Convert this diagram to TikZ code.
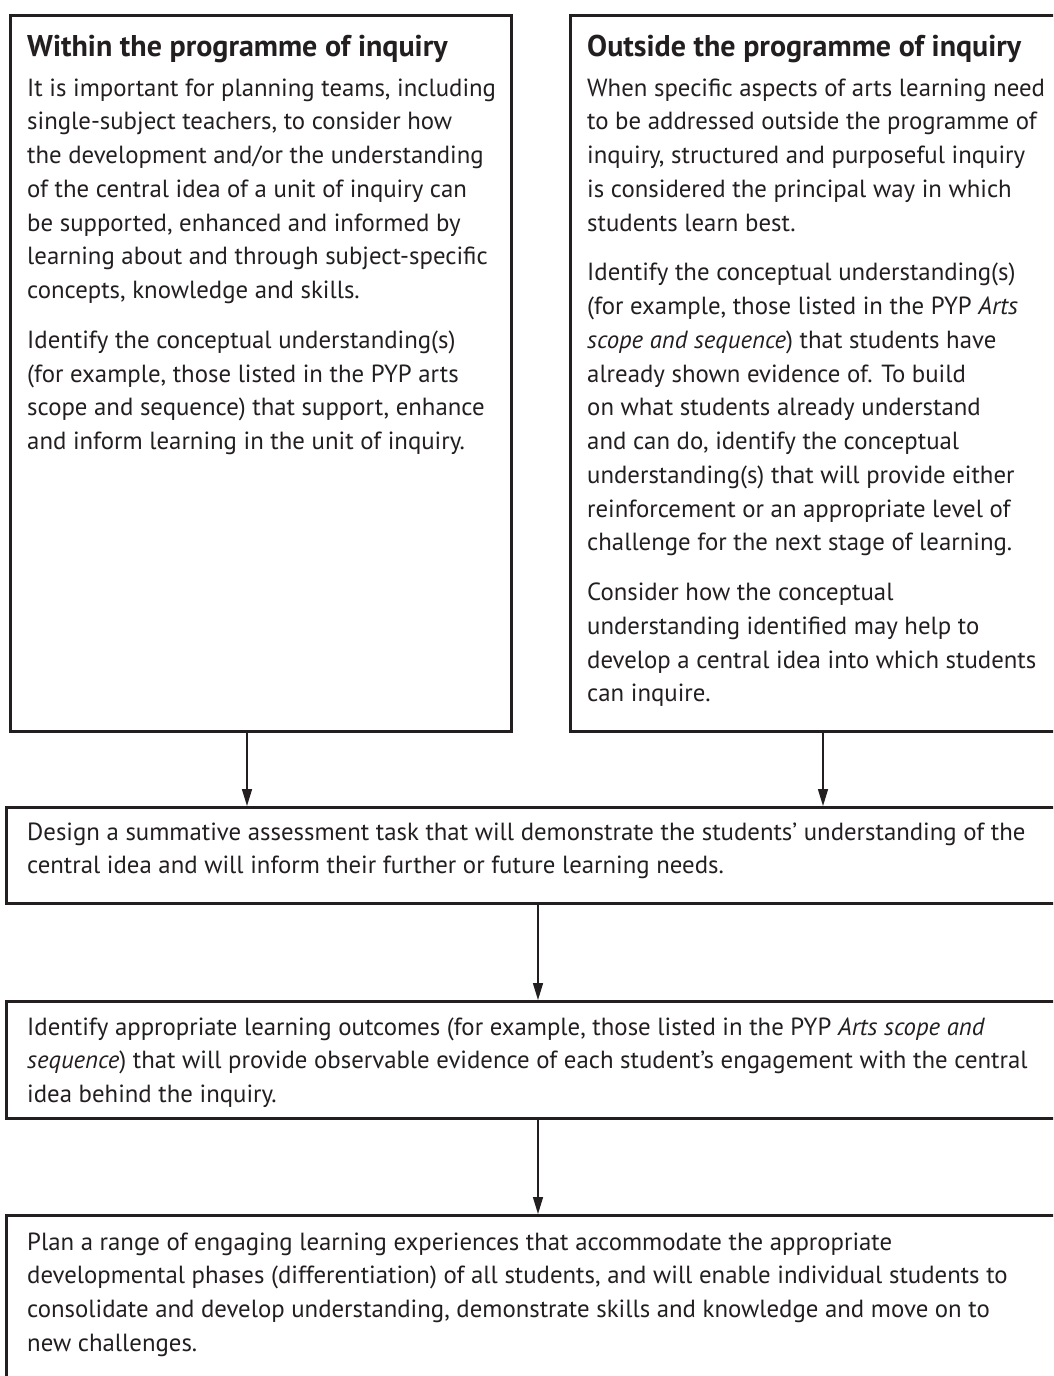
\documentclass[tikz,border=0pt]{standalone}
\usepackage{fontspec}
\setmainfont{PT Sans}
\usetikzlibrary{arrows.meta}
\definecolor{ink}{HTML}{231F20}
\begin{document}
\begin{tikzpicture}[x=1pt,y=-1pt,
  boxstyle/.style={draw=ink,line width=3pt,rectangle,inner sep=0pt,anchor=north west},
  txt/.style={anchor=north west,inner sep=0pt,align=left,text=ink,font=\fontsize{24.8}{33.75}\selectfont},
  head/.style={anchor=north west,inner sep=0pt,align=left,text=ink,font=\fontsize{30}{33.75}\selectfont\bfseries},
  arr/.style={draw=ink,line width=1.5pt,-{Triangle[length=17pt,width=10pt]}}]
\useasboundingbox (0,0) rectangle (1053,1376);
\clip (0,0) rectangle (1053,1376);
\fill[white] (0,0) rectangle (1053,1376);
% boxes
\node[boxstyle,minimum width=501pt,minimum height=716pt] (L) at (9,14) {};
\node[boxstyle,minimum width=500pt,minimum height=716pt] (R) at (569,14) {};
\node[boxstyle,minimum width=1060pt,minimum height=96pt] (B3) at (5,806) {};
\node[boxstyle,minimum width=1060pt,minimum height=117pt] (B4) at (5,1000) {};
\node[boxstyle,minimum width=1060pt,minimum height=200pt] (B5) at (5,1214) {};
% texts
\node[head] (Lh) at (27,32.4) {\strut Within the programme of inquiry};
\node[txt] (Lt) at (27,72.4) {\strut It is important for planning teams, including\\
single-subject teachers, to consider how\\
the development and/or the understanding\\
of the central idea of a unit of inquiry can\\
be supported, enhanced and informed by\\
learning about and through subject-specific\\
concepts, knowledge and skills.\\[16pt]
Identify the conceptual understanding(s)\\
(for example, those listed in the PYP arts\\
scope and sequence) that support, enhance\\
and inform learning in the unit of inquiry.};
\node[head] (Rh) at (587,32.4) {\strut Outside the programme of inquiry};
\node[txt] (Rt) at (587,72.4) {\strut When specific aspects of arts learning need\\
to be addressed outside the programme of\\
inquiry, structured and purposeful inquiry\\
is considered the principal way in which\\
students learn best.\\[16pt]
Identify the conceptual understanding(s)\\
(for example, those listed in the PYP \textit{Arts}\\
\textit{scope and sequence}) that students have\\
already shown evidence of. To build\\
on what students already understand\\
and can do, identify the conceptual\\
understanding(s) that will provide either\\
reinforcement or an appropriate level of\\
challenge for the next stage of learning.\\[16pt]
Consider how the conceptual\\
understanding identified may help to\\
develop a central idea into which students\\
can inquire.};
\node[txt] (T3) at (27,816.4) {\strut Design a summative assessment task that will demonstrate the students’ understanding of the\\
central idea and will inform their further or future learning needs.};
\node[txt] (T4) at (27,1011.4) {\strut Identify appropriate learning outcomes (for example, those listed in the PYP \textit{Arts scope and}\\
\textit{sequence}) that will provide observable evidence of each student’s engagement with the central\\
idea behind the inquiry.};
\node[txt] (T5) at (27,1226.4) {\strut Plan a range of engaging learning experiences that accommodate the appropriate\\
developmental phases (differentiation) of all students, and will enable individual students to\\
consolidate and develop understanding, demonstrate skills and knowledge and move on to\\
new challenges.};
% arrows
\draw[arr] (247,0 |- L.south) -- (247,0 |- B3.north);
\draw[arr] (823,0 |- R.south) -- (823,0 |- B3.north);
\draw[arr] (538,0 |- B3.south) -- (538,0 |- B4.north);
\draw[arr] (538,0 |- B4.south) -- (538,0 |- B5.north);
\end{tikzpicture}
\end{document}
